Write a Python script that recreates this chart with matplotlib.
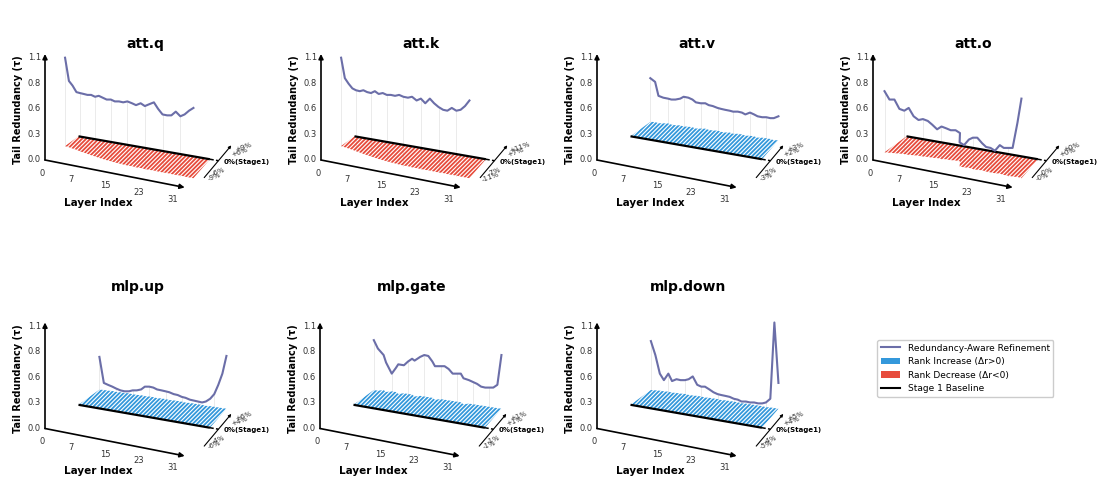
import numpy as np
import matplotlib.pyplot as plt
from matplotlib.lines import Line2D
from matplotlib.patches import Patch, Polygon

plt.rcParams['hatch.linewidth'] = 1.3

# ---- data ----
layers = np.arange(32)
layer_ticks = [0, 7, 15, 23, 31]
tau_ticks = np.linspace(0, 1.1, 5)

names = ['att.q', 'att.k', 'att.v', 'att.o', 'mlp.up', 'mlp.gate', 'mlp.down']

# tail redundancy per layer (after refinement)
tau_att_q = [1.10, 0.85, 0.80, 0.73, 0.72, 0.71, 0.70, 0.70, 0.68, 0.69, 0.67, 0.65, 0.65, 0.63, 0.63, 0.62,
             0.63, 0.61, 0.59, 0.61, 0.58, 0.60, 0.62, 0.55, 0.49, 0.48, 0.48, 0.52, 0.47, 0.49, 0.53, 0.56]
tau_att_k = [1.10, 0.88, 0.82, 0.77, 0.75, 0.74, 0.75, 0.73, 0.72, 0.74, 0.71, 0.72, 0.70, 0.70, 0.69, 0.70,
             0.68, 0.67, 0.68, 0.64, 0.66, 0.61, 0.66, 0.61, 0.57, 0.54, 0.53, 0.56, 0.53, 0.54, 0.58, 0.64]
tau_att_v = [0.88, 0.84, 0.69, 0.67, 0.66, 0.65, 0.65, 0.66, 0.68, 0.67, 0.65, 0.62, 0.61, 0.61, 0.59, 0.58,
             0.56, 0.55, 0.54, 0.53, 0.52, 0.52, 0.51, 0.49, 0.51, 0.49, 0.47, 0.46, 0.46, 0.45, 0.45, 0.47]
tau_att_o = [0.74, 0.65, 0.65, 0.55, 0.53, 0.56, 0.47, 0.43, 0.44, 0.42, 0.38, 0.33, 0.36, 0.34, 0.32, 0.32,
             0.29, 0.19, 0.16, 0.22, 0.24, 0.24, 0.18, 0.14, 0.13, 0.10, 0.16, 0.13, 0.13, 0.13, 0.40, 0.66]
tau_mlp_up = [0.77, 0.49, 0.47, 0.45, 0.43, 0.41, 0.40, 0.40, 0.41, 0.41, 0.42, 0.45, 0.45, 0.44, 0.42, 0.41,
              0.40, 0.39, 0.37, 0.36, 0.34, 0.33, 0.31, 0.30, 0.29, 0.28, 0.29, 0.32, 0.37, 0.47, 0.59, 0.78]
tau_mlp_gate = [0.95, 0.86, 0.79, 0.71, 0.59, 0.65, 0.69, 0.68, 0.72, 0.75, 0.73, 0.77, 0.79, 0.78, 0.72, 0.67,
                0.67, 0.67, 0.64, 0.59, 0.59, 0.59, 0.54, 0.52, 0.50, 0.48, 0.45, 0.44, 0.44, 0.44, 0.47, 0.79]
tau_mlp_down = [0.94, 0.79, 0.59, 0.52, 0.59, 0.51, 0.53, 0.52, 0.52, 0.53, 0.56, 0.47, 0.45, 0.45, 0.42, 0.39,
                0.37, 0.36, 0.35, 0.34, 0.32, 0.31, 0.29, 0.29, 0.28, 0.28, 0.27, 0.27, 0.28, 0.32, 1.14, 0.49]

# rank change vs Stage 1, percent
dr_att_q = [-5.5, -5.7, -6.0, -6.2, -6.6, -6.8, -7.1, -7.4, -7.6, -7.9, -8.1, -8.3, -8.4, -8.6, -8.7, -8.8,
            -8.9, -8.8, -9.0, -8.9, -9.0, -9.0, -8.9, -9.0, -9.0, -8.9, -9.0, -9.0, -8.9, -9.0, -9.0, -9.0]
dr_att_k = [-6.7, -7.0, -7.3, -7.6, -8.0, -8.3, -8.7, -9.0, -9.3, -9.6, -9.9, -10.1, -10.3, -10.5, -10.6, -10.8,
            -10.9, -10.8, -11.0, -10.9, -11.0, -11.0, -10.9, -11.0, -11.0, -10.9, -11.0, -11.0, -10.9, -11.0, -11.0, -11.0]
dr_att_v = [2.7, 2.8, 2.7, 2.8, 2.9, 2.8, 2.8, 2.9, 2.8, 2.9, 2.9, 2.8, 2.9, 3.0, 2.9, 2.9,
            3.0, 2.9, 2.9, 3.0, 2.9, 3.0, 3.0, 2.9, 3.0, 3.0, 2.9, 3.0, 3.0, 3.0, 2.9, 3.0]
dr_att_o = [-0.40, -0.39, -0.38, -0.37, -0.36, -0.36, -0.35, -0.34, -0.34, -0.33, -0.33, -0.32, -0.32, -0.31, -0.31, -0.30,
            -0.30, -0.40, -0.40, -0.39, -0.40, -0.40, -0.39, -0.40, -0.40, -0.40, -0.39, -0.40, -0.40, -0.40, -0.39, -0.40]
dr_mlp_up = [5.7, 5.8, 5.8, 5.9, 5.8, 5.9, 5.9, 6.0, 5.9, 5.9, 6.0, 5.9, 6.0, 6.0, 5.9, 6.0,
             6.0, 5.9, 6.0, 6.0, 6.0, 5.9, 6.0, 6.0, 6.0, 6.0, 5.9, 6.0, 6.0, 6.0, 6.0, 6.0]
dr_mlp_gate = [1.2, 1.2, 1.3, 1.2, 1.3, 1.3, 1.2, 1.3, 1.3, 1.3, 1.2, 1.3, 1.3, 1.3, 1.3, 1.2,
               1.3, 1.3, 1.3, 1.3, 1.3, 1.3, 1.2, 1.3, 1.3, 1.3, 1.3, 1.3, 1.3, 1.3, 1.3, 1.3]
dr_mlp_down = [5.0, 5.1, 5.2, 5.2, 5.3, 5.2, 5.3, 5.3, 5.4, 5.3, 5.3, 5.4, 5.4, 5.3, 5.4, 5.4,
               5.4, 5.3, 5.4, 5.4, 5.4, 5.4, 5.3, 5.4, 5.4, 5.4, 5.4, 5.4, 5.3, 5.4, 5.4, 5.4]

taus = [tau_att_q, tau_att_k, tau_att_v, tau_att_o, tau_mlp_up, tau_mlp_gate, tau_mlp_down]
drs = [dr_att_q, dr_att_k, dr_att_v, dr_att_o, dr_mlp_up, dr_mlp_gate, dr_mlp_down]

# ---- style / layout ----
RED = '#e74c3c'
BLUE = '#3498db'
LINE = '#6b6ea8'
W, H = 1097, 479

# panel origin (bottom of tau axis) in figure pixels, and title offset
panels = [(45, 160, 100, 116), (321, 160, 100, 116), (597, 160, 100, 116), (873, 160, 100, 116),
          (45, 428.5, 93, 141), (320, 428.5, 92, 141), (597, 428.5, 91, 141)]

# oblique projection (panel pixels, y up)
B0 = np.array([33.5, 23.7])   # layer 0 on the Stage 1 baseline
EX = np.array([4.24, -0.74])  # one layer
EZ0 = np.array([22.0, 16.0])  # unit depth at layer 0
EZ1 = np.array([16.5, 19.0])  # unit depth at layer 31
EY = 93.0                     # one unit of tau


def proj(L, d):
    L = np.asarray(L, float)
    d = np.asarray(d, float)
    f = L / 31.0
    ezx = EZ0[0] + (EZ1[0] - EZ0[0]) * f
    ezy = EZ0[1] + (EZ1[1] - EZ0[1]) * f
    return B0[0] + L * EX[0] + d * ezx, B0[1] + L * EX[1] + d * ezy


def draw_panel(ax, name, tau, dr, tx, ty):
    tau = np.array(tau)
    dr = np.array(dr)
    dmax = np.abs(dr).max()
    d = dr / dmax
    arrow = dict(arrowstyle='-|>', color='black', lw=1.2, mutation_scale=7, shrinkA=0, shrinkB=0)

    # tau axis
    ax.annotate('', xy=(0, 1.14 * EY), xytext=(0, 0), arrowprops=arrow)
    for t in tau_ticks:
        ax.text(-4, t * EY, f'{t:.1f}', ha='right', va='center', fontsize=6, color='#333333')
    ax.text(-27, 50, 'Tail Redundancy (τ)', rotation=90, ha='center', va='center',
            fontsize=7, fontweight='bold')

    # layer axis (front edge)
    x0, y0 = proj(0, -1.5)
    x1, y1 = proj(31, -1.5)
    ax.annotate('', xy=(x1 - x0, y1 - y0), xytext=(0, 0), arrowprops=arrow)
    for L in layer_ticks:
        ax.text(-3.3 + 4.23 * L, -13.3 - 0.83 * L, str(L), ha='center', va='center',
                fontsize=6, color='#333333')
    ax.text(53, -43, 'Layer Index', ha='center', va='center', fontsize=7.5, fontweight='bold')

    # rank change bars (hatched)
    bx, by = proj(layers, np.zeros(32))
    for sign, color in [(1, BLUE), (-1, RED)]:
        part = np.where(sign * d > 0, d, 0.0)
        if not np.any(part):
            continue
        ex_, ey_ = proj(layers[::-1], part[::-1])
        pts = np.column_stack([np.r_[bx, ex_], np.r_[by, ey_]])
        ax.add_patch(Polygon(pts, closed=True, facecolor='none', edgecolor=color,
                             lw=0, hatch='////////', zorder=2))

    # stage 1 baseline and its dashed continuation
    ax.plot(bx, by, color='black', lw=1.6, zorder=3, solid_capstyle='butt')
    dx, dy = proj([31, 33], [0, 0])
    ax.plot(dx, dy, color='black', lw=1.1, ls=(0, (2.5, 1.5)), zorder=3)

    # depth axis
    ax_x, ax_y = proj([33, 33], [-0.88, 0.8])
    ax.annotate('', xy=(ax_x[1], ax_y[1]), xytext=(ax_x[0], ax_y[0]),
                arrowprops=dict(arrowstyle='-|>', color='black', lw=0.8, mutation_scale=4,
                                shrinkA=0, shrinkB=0))
    lx, ly = proj(34.3, 0)
    ax.text(lx, ly, '0%(Stage1)', ha='left', va='center', fontsize=5, fontweight='bold')
    for v in [dmax, dmax * 2 / 3, -dmax * 2 / 3, -dmax]:
        dv = 0.8 * v / dmax
        px, py = proj(36, dv)
        if dv < 0:
            px, py = px - 4, py + 2
        ax.text(px, py, f'{v:+.0f}%', ha='center', va='center', fontsize=5,
                color='#333333', rotation=20)

    # refinement curve with drop lines
    cx, cb = proj(layers, d)
    cy = tau * EY
    for L in range(0, 32, 4):
        ax.plot([cx[L], cx[L]], [cb[L], cy[L]], color='#e8e8e8', lw=0.6, zorder=1)
    ax.plot(cx, cy, color=LINE, lw=1.5, zorder=4)

    ax.text(tx, ty, name, ha='center', va='center', fontsize=10, fontweight='bold')


fig = plt.figure(figsize=(W / 100, H / 100), dpi=100)
for (ox, oy, tx, ty), name, tau, dr in zip(panels, names, taus, drs):
    ax = fig.add_axes([(ox - 45) / W, (H - oy - 50) / H, 280 / W, 175 / H])
    ax.set_xlim(-45, 235)
    ax.set_ylim(-50, 125)
    ax.axis('off')
    draw_panel(ax, name, tau, dr, tx, ty)

handles = [Line2D([], [], color=LINE, lw=1.5),
           Patch(facecolor=BLUE),
           Patch(facecolor=RED),
           Line2D([], [], color='black', lw=1.5)]
labels = ['Redundancy-Aware Refinement', 'Rank Increase (Δr>0)',
          'Rank Decrease (Δr<0)', 'Stage 1 Baseline']
fig.legend(handles, labels, loc='upper left', bbox_to_anchor=(877 / W, 1 - 340 / H),
           borderaxespad=0, fontsize=6.5, handlelength=2.2, framealpha=1)

fig.savefig('out.png', dpi=100)
